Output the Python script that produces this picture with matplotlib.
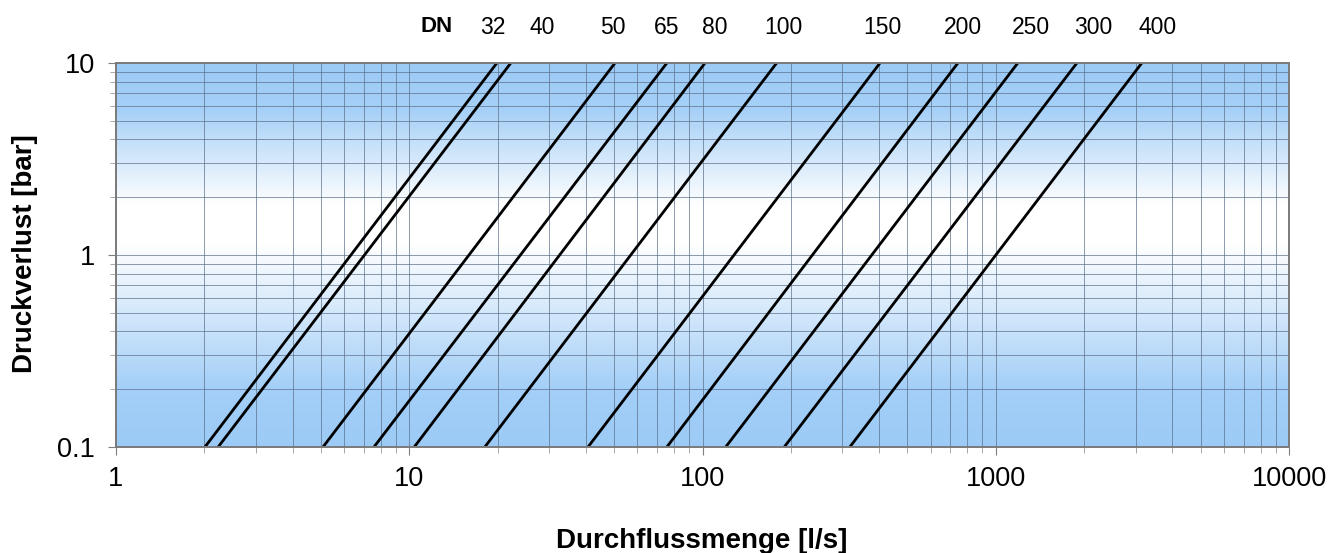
import numpy as np
import matplotlib
matplotlib.use("Agg")
import matplotlib.pyplot as plt
from matplotlib.colors import LinearSegmentedColormap
from matplotlib.ticker import LogLocator, FixedLocator, NullFormatter

plt.rcParams['font.family'] = ['Liberation Sans', 'DejaVu Sans']

# Data: pipe nominal diameters and flow rate (l/s) at 0.1 bar and 10 bar
dn_labels = ["32", "40", "50", "65", "80", "100", "150", "200", "250", "300", "400"]
q_at_low = [2.01, 2.23, 5.08, 7.58, 10.4, 18.1, 40.7, 75.6, 120, 190, 318]
q_at_high = [19.9, 22.2, 50.3, 75.6, 102, 179, 403, 743, 1189, 1891, 3148]
p_low, p_high = 0.1, 10
label_x = [19.3, 28.3, 49.5, 75.6, 110, 188, 409, 772, 1318, 2143, 3572]
dn_title_x = 12.4
x_ticks = [1, 10, 100, 1000, 10000]
x_ticklabels = ["1", "10", "100", "1000", "10000"]
y_ticks = [0.1, 1, 10]
y_ticklabels = ["0.1", "1", "10"]

W, H = 1333, 553
fig = plt.figure(figsize=(W / 100, H / 100), dpi=100)
ax = fig.add_axes([116 / W, 1 - 447 / H, (1289 - 116) / W, (447 - 63) / H])

# background gradient
blue = (0.61, 0.795, 0.965)
cmap = LinearSegmentedColormap.from_list(
    "bg", [(0.0, blue), (0.15, (0.64, 0.81, 0.97)), (0.53, (1, 1, 1)),
           (0.63, (1, 1, 1)), (0.88, (0.65, 0.815, 0.97)), (1.0, blue)])
grad = np.linspace(0, 1, 512).reshape(-1, 1)
ax.imshow(grad, cmap=cmap, aspect='auto', extent=[0, 1, 0, 1],
          transform=ax.transAxes, origin='lower', zorder=0, interpolation='bilinear')

ax.set_xscale('log')
ax.set_yscale('log')
ax.set_xlim(1, 10000)
ax.set_ylim(0.1, 10)

for ql, qh in zip(q_at_low, q_at_high):
    ax.plot([ql, qh], [p_low, p_high], color='black', lw=2.0, zorder=3,
            solid_capstyle='butt')

ax.xaxis.set_major_locator(FixedLocator(x_ticks))
ax.set_xticklabels(x_ticklabels)
ax.yaxis.set_major_locator(FixedLocator(y_ticks))
ax.set_yticklabels(y_ticklabels)
ax.xaxis.set_minor_locator(LogLocator(base=10, subs=np.arange(2, 10)))
ax.yaxis.set_minor_locator(LogLocator(base=10, subs=np.arange(2, 10)))
ax.xaxis.set_minor_formatter(NullFormatter())
ax.yaxis.set_minor_formatter(NullFormatter())

gc = '#5C6F88'
ax.grid(True, which='both', color=gc, lw=0.7, alpha=0.7, zorder=1)
ax.set_axisbelow(False)
for gl in ax.get_xgridlines() + ax.get_ygridlines():
    gl.set_zorder(1)

ax.tick_params(which='major', direction='out', length=6, width=0.8,
               color='#7F7F7F', labelsize=19.5, pad=8)
ax.tick_params(which='minor', direction='out', length=4, width=0.6,
               color='#9A9A9A')
ax.tick_params(axis='y', which='major', pad=9)
for s in ax.spines.values():
    s.set_color('#7A7A7A')
    s.set_linewidth(1.4)
    s.set_zorder(4)

# DN labels above the plot
ytxt = (447 - 27) / (447 - 63)
trans = ax.get_xaxis_transform()
ax.text(dn_title_x, ytxt, "DN", transform=trans, ha='center', va='center',
        fontsize=16, fontweight='bold', clip_on=False)
for lx, lab in zip(label_x, dn_labels):
    ax.text(lx, ytxt, lab, transform=trans, ha='center', va='center',
            fontsize=16.5, clip_on=False)

fig.text(702 / W, 1 - 541 / H, "Durchflussmenge [l/s]", ha='center', va='center',
         fontsize=20, fontweight='bold')
fig.text(25 / W, 1 - 254 / H, "Druckverlust [bar]", ha='center', va='center',
         rotation=90, fontsize=20, fontweight='bold')

fig.savefig("out.png", dpi=100)
